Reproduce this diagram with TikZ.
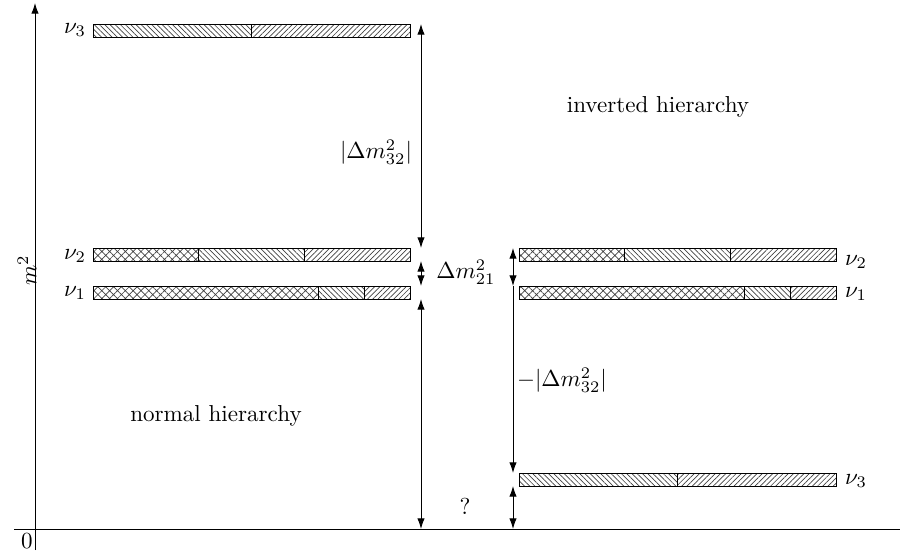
\documentclass[tikz,border=0pt]{standalone}
\usetikzlibrary{patterns.meta,arrows.meta}
\begin{document}
\begin{tikzpicture}[x=0.4333pt,y=-0.4333pt,
  bar/.style={draw=black,line width=0.4pt},
  nwl/.style={bar,pattern={Lines[angle=-45,distance=1.6pt,line width=0.3pt]},pattern color=black!75},
  nel/.style={bar,pattern={Lines[angle=45,distance=1.6pt,line width=0.3pt]},pattern color=black!75},
  xh/.style={bar,pattern={Hatch[angle=45,distance=2.4pt,line width=0.3pt]},pattern color=black!75},
  dbl/.style={line width=0.4pt,{Latex[length=4.6pt,width=3.2pt]}-{Latex[length=4.6pt,width=3.2pt]}},
  sgl/.style={line width=0.4pt,-{Latex[length=4.6pt,width=3.2pt]}},
  lbl/.style={inner sep=0pt}]
\useasboundingbox (0,0) rectangle (900,557);
% axes
\coordinate (ybot) at (35,550);
\coordinate (ytop) at (35,3);
\coordinate (xl) at (14,529);
\coordinate (xr) at (900,529);
\draw[sgl] (ybot) -- (ytop);
\draw[line width=0.4pt] (xl) -- (xr);
\node[lbl] (zero) at (27,541) {$0$};
\node[lbl,rotate=90] (msq) at (27,270) {$m^2$};
% normal hierarchy bars
\draw[nwl] (93,24) rectangle (251,37);
\draw[nel] (251,24) rectangle (410,37);
\draw[xh] (93,248) rectangle (198,261);
\draw[nwl] (198,248) rectangle (304,261);
\draw[nel] (304,248) rectangle (410,261);
\draw[xh] (93,286) rectangle (318,299);
\draw[nwl] (318,286) rectangle (364,299);
\draw[nel] (364,286) rectangle (410,299);
% inverted hierarchy bars
\draw[xh] (519,248) rectangle (624,261);
\draw[nwl] (624,248) rectangle (730,261);
\draw[nel] (730,248) rectangle (836,261);
\draw[xh] (519,286) rectangle (744,299);
\draw[nwl] (744,286) rectangle (790,299);
\draw[nel] (790,286) rectangle (836,299);
\draw[nwl] (519,473) rectangle (677,486);
\draw[nel] (677,473) rectangle (836,486);
% labels
\node[lbl] (ln3) at (75,30) {$\nu_3$};
\node[lbl] (ln2) at (75,256) {$\nu_2$};
\node[lbl] (ln1) at (75,293) {$\nu_1$};
\node[lbl] (rn2) at (856,262) {$\nu_2$};
\node[lbl] (rn1) at (856,294) {$\nu_1$};
\node[lbl] (rn3) at (856,481) {$\nu_3$};
% left arrows
\coordinate (a1) at (421,24);
\coordinate (a2) at (421,248);
\coordinate (a3) at (421,261);
\coordinate (a4) at (421,286);
\coordinate (a5) at (421,299);
\coordinate (a6) at (421,529);
\draw[dbl] (a1) -- (a2);
\draw[dbl] (a3) -- (a4);
\draw[dbl] (a5) -- (a6);
% right arrows
\coordinate (b1) at (513,248);
\coordinate (b2) at (513,286);
\coordinate (b3) at (513,473);
\coordinate (b4) at (513,486);
\coordinate (b5) at (513,529);
\draw[dbl] (b1) -- (b2);
\draw[sgl] (b2) -- (b3);
\draw[dbl] (b4) -- (b5);
% text labels
\node[lbl] (d32) at (376,152) {$|\Delta m^2_{32}|$};
\node[lbl] (d21) at (466,272) {$\Delta m^2_{21}$};
\node[lbl] (md32) at (562,380) {$-|\Delta m^2_{32}|$};
\node[lbl] (q) at (465,506) {?};
\node[lbl] (ih) at (658,107) {inverted hierarchy};
\node[lbl] (nh) at (216,416) {normal hierarchy};
\end{tikzpicture}
\end{document}
